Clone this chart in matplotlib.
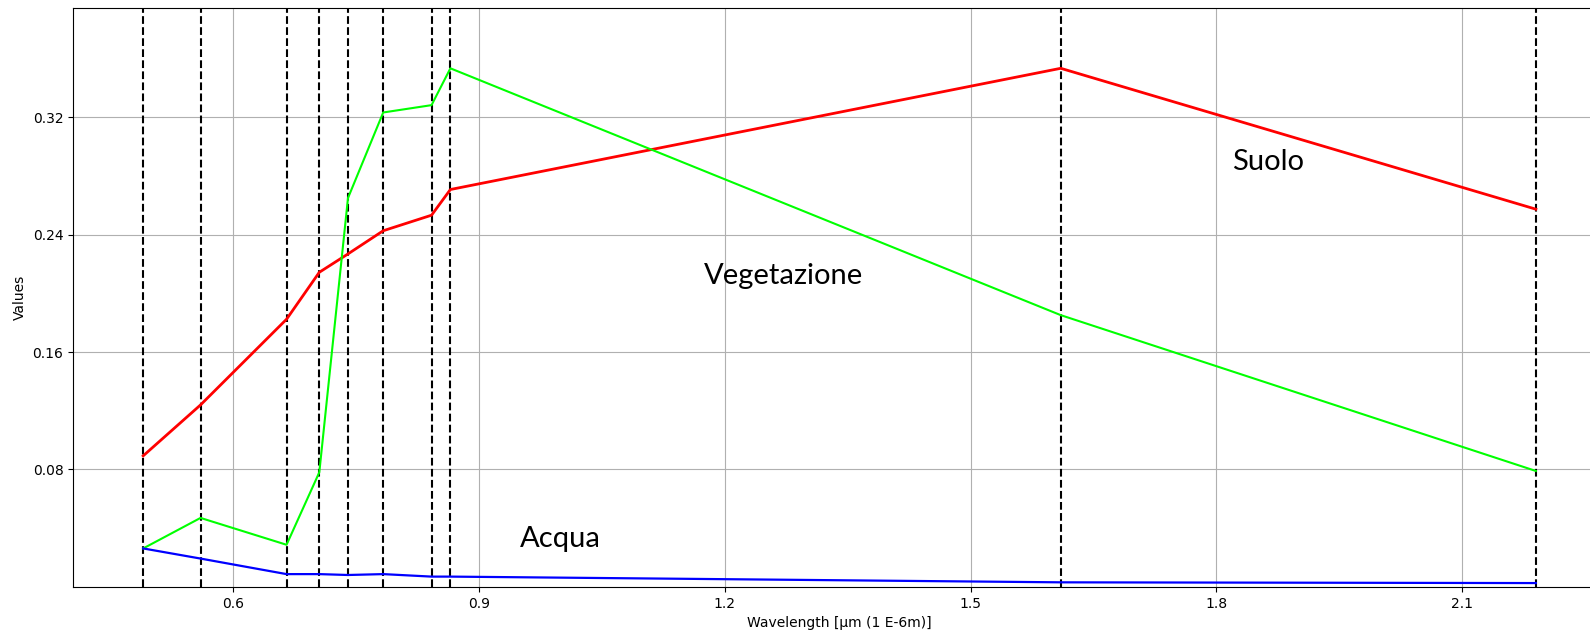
import matplotlib.pyplot as plt

# Sentinel-2 band centres (micrometres)
wavelengths = [0.49, 0.56, 0.665, 0.705, 0.74, 0.783, 0.842, 0.865, 1.61, 2.19]

suolo = [0.0893, 0.124, 0.1824, 0.2144, 0.2269, 0.2427, 0.2533, 0.2708, 0.3534, 0.2574]
vegetazione = [0.0262, 0.047, 0.0287, 0.0781, 0.265, 0.3233, 0.3283, 0.3534, 0.1852, 0.079]
acqua = [0.0262, 0.0193, 0.0087, 0.0087, 0.0081, 0.0087, 0.0070, 0.0070, 0.0031, 0.0026]

yticks = [0.08, 0.16, 0.24, 0.32]

fig = plt.figure(figsize=(15.9, 6.4), dpi=100)
ax = fig.add_axes([0.046, 0.083, 0.964, 0.9045])

for w in wavelengths:
    ax.axvline(w, color="black", linestyle="--", linewidth=1.5, zorder=1)

ax.plot(wavelengths, suolo, color="red", linewidth=2, zorder=3)
ax.plot(wavelengths, vegetazione, color="lime", linewidth=1.5, zorder=3)
ax.plot(wavelengths, acqua, color="blue", linewidth=1.6, zorder=3)

ax.text(1.8186, 0.2898, "Suolo", fontsize=21, family="Lato", ha="left", va="center")
ax.text(1.1743, 0.2116, "Vegetazione", fontsize=21, family="Lato", ha="left", va="center")
ax.text(0.9494, 0.0327, "Acqua", fontsize=21, family="Lato", ha="left", va="center")

ax.set_xlim(0.4045, 2.2755)
ax.set_ylim(0, 0.3945)
ax.set_xticks([0.6, 0.9, 1.2, 1.5, 1.8, 2.1])
ax.set_yticks(yticks)
ax.grid(True)
ax.set_axisbelow(True)
ax.set_xlabel("Wavelength [µm (1 E-6m)]")
ax.set_ylabel("Values")

fig.savefig("out.png")
